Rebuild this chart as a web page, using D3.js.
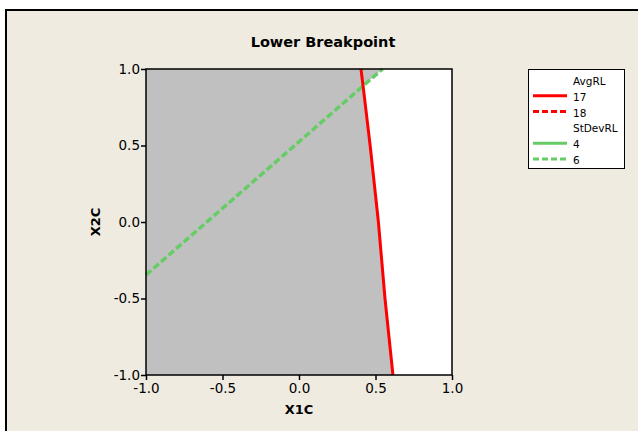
<!DOCTYPE html>
<html>
<head>
<meta charset="utf-8">
<script src="https://cdn.jsdelivr.net/npm/d3@7"></script>
<style>
  body { margin: 0; background: #fff; }
  svg { display: block; font-family: "DejaVu Sans", Verdana, sans-serif; }
</style>
</head>
<body>
<div id="chart"></div>
<script>
// contour lines (x1c, x2c)
const avgRL17 = [[0.614, -1.0], [0.562, -0.5], [0.519, 0.0], [0.465, 0.5], [0.42, 0.88], [0.405, 1.0]];
const stdRL6 = [[-1.0, -0.346], [0.546, 1.0]];
const xTicks = [-1.0, -0.5, 0.0, 0.5, 1.0];
const yTicks = [-1.0, -0.5, 0.0, 0.5, 1.0];
const legendItems = [
  { head: "AvgRL" },
  { label: "17", color: "#ff0000", dash: null },
  { label: "18", color: "#ff0000", dash: "6,3" },
  { head: "StDevRL" },
  { label: "4", color: "#66cc66", dash: null },
  { label: "6", color: "#66cc66", dash: "6,3" }
];

const width = 638, height = 431;
const margin = { left: 146, right: 186, top: 69, bottom: 56 };
const svg = d3.select("#chart").append("svg")
  .attr("width", width).attr("height", height);

// beige panel with black frame
svg.append("rect")
  .attr("x", 6).attr("y", 10)
  .attr("width", 700).attr("height", 500)
  .attr("fill", "#efebe1").attr("stroke", "#000").attr("stroke-width", 2);

const x = d3.scaleLinear().domain([-1, 1]).range([margin.left, width - margin.right]);
const y = d3.scaleLinear().domain([-1, 1]).range([height - margin.bottom, margin.top]);

const defs = svg.append("defs");
// area right of the red line
defs.append("clipPath").attr("id", "rightOfRed")
  .append("polygon")
  .attr("points", avgRL17.concat([[1, 1], [1, -1]]).map(p => [x(p[0]), y(p[1])].join(",")).join(" "));
// area below the green line
defs.append("clipPath").attr("id", "belowGreen")
  .append("polygon")
  .attr("points", stdRL6.concat([[1, 1], [1, -1], [-1, -1]]).map(p => [x(p[0]), y(p[1])].join(",")).join(" "));

// gray background of plot
svg.append("rect")
  .attr("x", x(-1)).attr("y", y(1))
  .attr("width", x(1) - x(-1)).attr("height", y(-1) - y(1))
  .attr("fill", "#c0c0c0");

// white feasible region
svg.append("g").attr("clip-path", "url(#belowGreen)")
  .append("g").attr("clip-path", "url(#rightOfRed)")
  .append("rect")
  .attr("x", x(-1)).attr("y", y(1))
  .attr("width", x(1) - x(-1)).attr("height", y(-1) - y(1))
  .attr("fill", "#fff");

const line = d3.line().x(d => x(d[0])).y(d => y(d[1]));

svg.append("path").datum(stdRL6)
  .attr("d", line).attr("fill", "none")
  .attr("stroke", "#66cc66").attr("stroke-width", 3.5)
  .attr("stroke-dasharray", "7,3");

svg.append("path").datum(avgRL17)
  .attr("d", line).attr("fill", "none")
  .attr("stroke", "#ff0000").attr("stroke-width", 3);

// frame of plot
svg.append("rect")
  .attr("x", x(-1)).attr("y", y(1))
  .attr("width", x(1) - x(-1)).attr("height", y(-1) - y(1))
  .attr("fill", "none").attr("stroke", "#000").attr("stroke-width", 1.5);

// axes
const fmt = v => d3.format(".1f")(v).replace("\u2212", "-");
const xAxis = svg.append("g")
  .attr("transform", `translate(0,${y(-1)})`)
  .call(d3.axisBottom(x).tickValues(xTicks).tickFormat(fmt).tickSize(5).tickSizeOuter(0));
const yAxis = svg.append("g")
  .attr("transform", `translate(${x(-1)},0)`)
  .call(d3.axisLeft(y).tickValues(yTicks).tickFormat(fmt).tickSize(5).tickSizeOuter(0));
[xAxis, yAxis].forEach(a => {
  a.select(".domain").remove();
  a.selectAll("line").attr("stroke-width", 1.5);
  a.selectAll("text").attr("font-size", 13.5).attr("fill", "#000")
    .attr("font-family", "DejaVu Sans, Verdana, sans-serif");
});
xAxis.selectAll("text").attr("y", 8).attr("dy", "0.75em");
yAxis.selectAll("text").attr("x", -6);

// titles
svg.append("text")
  .attr("x", 323).attr("y", 47)
  .attr("text-anchor", "middle")
  .attr("font-size", 14.5).attr("font-weight", "bold")
  .text("Lower Breakpoint");

svg.append("text")
  .attr("x", x(0)).attr("y", 414)
  .attr("text-anchor", "middle")
  .attr("font-size", 13).attr("font-weight", "bold")
  .text("X1C");

svg.append("text")
  .attr("transform", `translate(100,${y(0)}) rotate(-90)`)
  .attr("text-anchor", "middle")
  .attr("font-size", 13).attr("font-weight", "bold")
  .text("X2C");

// legend
const lg = svg.append("g");
lg.append("rect")
  .attr("x", 528.5).attr("y", 69.5)
  .attr("width", 96).attr("height", 99)
  .attr("fill", "#fff").attr("stroke", "#000").attr("stroke-width", 1);

const rowY = d3.scalePoint().domain(d3.range(legendItems.length)).range([85, 164]);
legendItems.forEach((d, i) => {
  const yy = rowY(i);
  if (d.head) {
    lg.append("text").attr("x", 573).attr("y", yy)
      .attr("font-size", 10.5).text(d.head);
  } else {
    lg.append("line")
      .attr("x1", 533).attr("x2", 567).attr("y1", yy - 5).attr("y2", yy - 5)
      .attr("stroke", d.color).attr("stroke-width", 3)
      .attr("stroke-dasharray", d.dash);
    lg.append("text").attr("x", 573).attr("y", yy)
      .attr("font-size", 10.5).text(d.label);
  }
});
</script>
</body>
</html>
